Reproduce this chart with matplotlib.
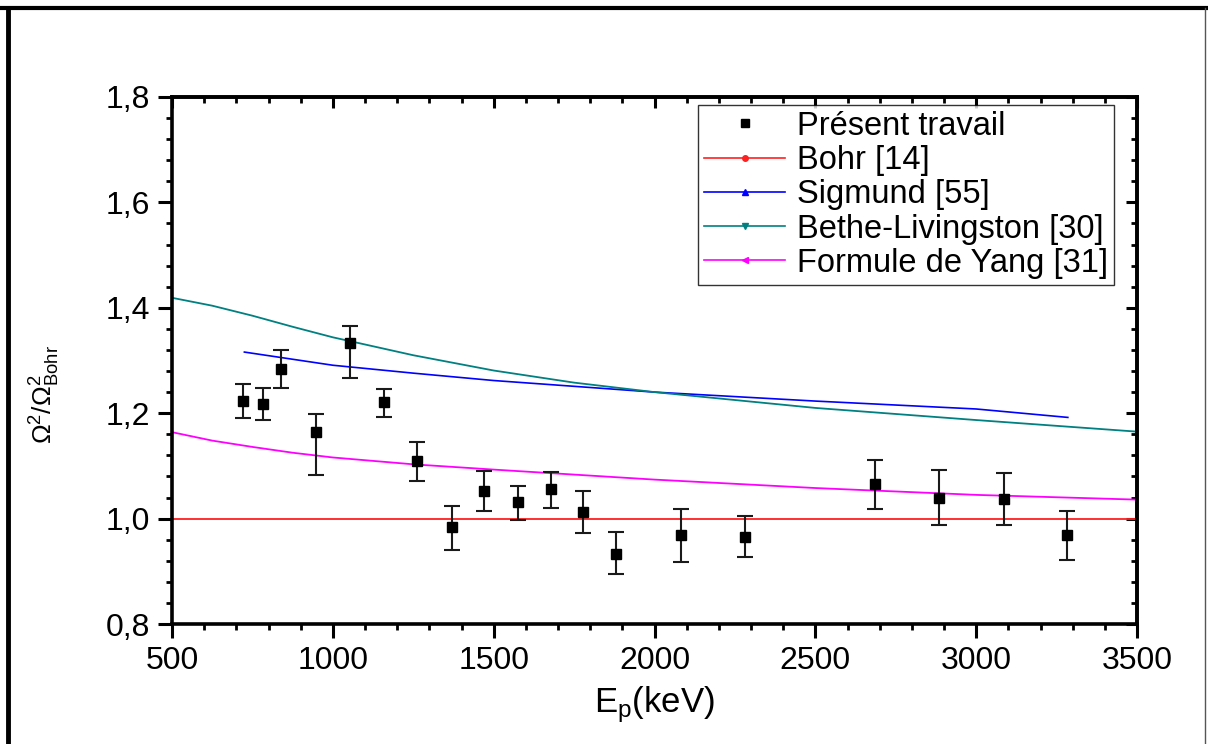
import matplotlib
matplotlib.use("Agg")
import matplotlib.pyplot as plt
from matplotlib.lines import Line2D
from matplotlib.ticker import MultipleLocator, FuncFormatter

plt.rcParams['font.family'] = ['Liberation Sans', 'DejaVu Sans']
plt.rcParams['mathtext.fontset'] = 'custom'
plt.rcParams['mathtext.rm'] = 'Liberation Sans'
plt.rcParams['mathtext.it'] = 'Liberation Sans'

# ---- data ----
exp_E = [720, 783, 840, 948, 1053, 1160, 1263, 1370, 1471, 1575, 1677, 1778,
         1880, 2081, 2282, 2684, 2883, 3085, 3282]
exp_val = [1.223, 1.218, 1.283, 1.164, 1.333, 1.221, 1.109, 0.984, 1.052, 1.031,
           1.056, 1.0125, 0.933, 0.968, 0.966, 1.065, 1.040, 1.037, 0.968]
err_lo = [0.032, 0.030, 0.035, 0.082, 0.066, 0.028, 0.037, 0.043, 0.037, 0.033,
          0.036, 0.040, 0.039, 0.050, 0.039, 0.047, 0.052, 0.049, 0.047]
err_hi = [0.032, 0.029, 0.036, 0.034, 0.033, 0.024, 0.037, 0.040, 0.038, 0.031,
          0.033, 0.040, 0.042, 0.050, 0.039, 0.046, 0.052, 0.050, 0.047]

bohr_E = [500, 3500]
bohr_val = [1.0, 1.0]

sig_E = [725, 1000, 1250, 1500, 2000, 2500, 3000, 3285]
sig_val = [1.316, 1.291, 1.276, 1.262, 1.240, 1.223, 1.208, 1.192]

bl_E = [500, 625, 750, 875, 1000, 1250, 1500, 1750, 2000, 2500, 3000, 3500]
bl_val = [1.419, 1.404, 1.385, 1.364, 1.344, 1.310, 1.281, 1.258, 1.240, 1.210, 1.187, 1.165]

yang_E = [500, 625, 750, 875, 1000, 1250, 1500, 2000, 2500, 3000, 3500]
yang_val = [1.164, 1.148, 1.136, 1.125, 1.116, 1.103, 1.093, 1.074, 1.058, 1.045, 1.036]

labels = ["Présent travail", "Bohr [14]", "Sigmund [55]",
          "Bethe-Livingston [30]", "Formule de Yang [31]"]

# ---- figure ----
W, H = 1208, 744
fig = plt.figure(figsize=(W / 100, H / 100), dpi=100)
ax = fig.add_axes([172 / W, 1 - 624 / H, (1137 - 172) / W, (624 - 97) / H])

ax.plot(bohr_E, bohr_val, color='#ff2020', lw=1.3, zorder=2)
ax.plot(sig_E, sig_val, color='#0000ff', lw=1.2, zorder=2)
ax.plot(bl_E, bl_val, color='#008080', lw=1.3, zorder=2)
ax.plot(yang_E, yang_val, color='#ff00ff', lw=1.3, zorder=2)
ax.errorbar(exp_E, exp_val, yerr=[err_lo, err_hi], fmt='s', color='black',
            ecolor='#1a1a1a', elinewidth=1.5, capsize=6, capthick=1.5,
            markersize=6.5, zorder=3)

ax.set_xlim(500, 3500)
ax.set_ylim(0.8, 1.8)
ax.xaxis.set_major_locator(MultipleLocator(500))
ax.xaxis.set_minor_locator(MultipleLocator(100))
ax.yaxis.set_major_locator(MultipleLocator(0.2))
ax.yaxis.set_minor_locator(MultipleLocator(0.04))
ax.yaxis.set_major_formatter(FuncFormatter(lambda v, p: f"{v:.1f}".replace('.', ',')))

for s in ax.spines.values():
    s.set_linewidth(2.6)
ax.tick_params(which='major', direction='out', length=10, width=2.2,
               labelsize=23, pad=6)
ax.tick_params(which='minor', direction='out', length=4.5, width=2.0)

# mirrored inward ticks on top and right
secx = ax.secondary_xaxis('top')
secx.xaxis.set_major_locator(MultipleLocator(500))
secx.xaxis.set_minor_locator(MultipleLocator(100))
secx.tick_params(which='major', direction='in', length=8, width=2.2, labeltop=False)
secx.tick_params(which='minor', direction='in', length=4.5, width=2.0)
secy = ax.secondary_yaxis('right')
secy.yaxis.set_major_locator(MultipleLocator(0.2))
secy.yaxis.set_minor_locator(MultipleLocator(0.04))
secy.tick_params(which='major', direction='in', length=8, width=2.2, labelright=False)
secy.tick_params(which='minor', direction='in', length=4.5, width=2.0)
for sa in (secx, secy):
    for s in sa.spines.values():
        s.set_linewidth(2.6)

ax.set_xlabel(r'E$_{\rm p}$(keV)', fontsize=25, labelpad=6)
fig.text(45 / W, 1 - 395 / H, r'$\Omega^2/\Omega^2_{\rm Bohr}$', rotation=90,
         fontsize=19, ha='center', va='center')

handles = [
    Line2D([], [], ls='none', marker='s', color='black', markersize=6),
    Line2D([], [], color='#ff2020', lw=1.2, marker='o', markersize=4),
    Line2D([], [], color='#0000ff', lw=1.2, marker='^', markersize=4),
    Line2D([], [], color='#008080', lw=1.2, marker='v', markersize=4),
    Line2D([], [], color='#ff00ff', lw=1.2, marker='<', markersize=4),
]
leg = ax.legend(handles, labels, loc='upper right', bbox_to_anchor=(0.976, 0.985),
                borderaxespad=0, fontsize=23.5, frameon=True, fancybox=False,
                handlelength=2.5, handletextpad=0.35, labelspacing=0.1,
                borderpad=0.18)
leg.get_frame().set_edgecolor('black')
leg.get_frame().set_linewidth(1.0)

# outer frame of the picture
fig.add_artist(Line2D([0, 1], [1 - 8 / H, 1 - 8 / H], transform=fig.transFigure,
                      color='black', lw=3))
fig.add_artist(Line2D([8 / W, 8 / W], [0, 1 - 8 / H], transform=fig.transFigure,
                      color='black', lw=3.5))
fig.add_artist(Line2D([1205 / W, 1205 / W], [0, 1 - 8 / H], transform=fig.transFigure,
                      color='#555555', lw=1))

fig.savefig('out.png', dpi=100)
